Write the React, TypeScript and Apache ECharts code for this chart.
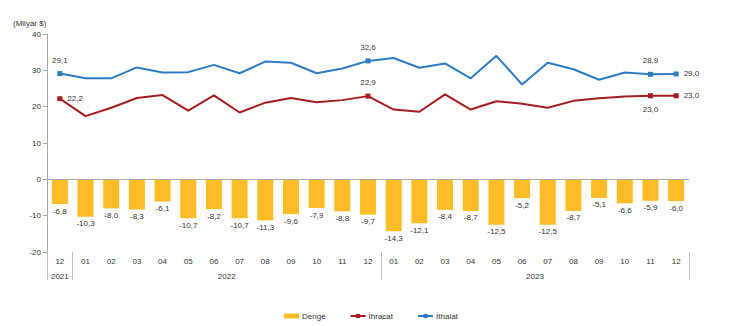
import React, { useEffect, useRef } from "react";
import * as echarts from "echarts";

const months = ["12", "01", "02", "03", "04", "05", "06", "07", "08", "09", "10", "11", "12", "01", "02", "03", "04", "05", "06", "07", "08", "09", "10", "11", "12"];
const yearLabels = ["2021", "2022", "2023"];
const yearSpans = [1, 12, 12];

const denge = [-6.8, -10.3, -8.0, -8.3, -6.1, -10.7, -8.2, -10.7, -11.3, -9.6, -7.9, -8.8, -9.7, -14.3, -12.1, -8.4, -8.7, -12.5, -5.2, -12.5, -8.7, -5.1, -6.6, -5.9, -6.0];
const ihracat = [22.2, 17.4, 19.7, 22.4, 23.2, 18.9, 23.1, 18.4, 21.1, 22.4, 21.2, 21.8, 22.9, 19.2, 18.6, 23.4, 19.2, 21.5, 20.8, 19.7, 21.6, 22.3, 22.8, 23.0, 23.0];
const ithalat = [29.1, 27.8, 27.8, 30.8, 29.4, 29.5, 31.5, 29.2, 32.4, 32.1, 29.2, 30.5, 32.6, 33.4, 30.7, 31.9, 27.8, 34.0, 26.1, 32.1, 30.3, 27.4, 29.4, 28.9, 29.0];

const ihracatLabelPos: Record<number, string> = { 0: "right", 12: "top", 23: "bottom", 24: "right" };
const ithalatLabelPos: Record<number, string> = { 0: "top", 12: "top", 23: "top", 24: "right" };

const fmt = (v: number) => v.toFixed(1).replace(".", ",");

const textColor = "#333333";
const axisColor = "#a6a6a6";

function lineData(values: number[], pos: Record<number, string>) {
  return values.map((v, i) =>
    pos[i] !== undefined
      ? {
          value: v,
          symbol: "rect",
          symbolSize: 5,
          label: { show: true, position: pos[i], distance: pos[i] === "right" ? 5 : 7 },
        }
      : { value: v, symbol: "none" }
  );
}

export default function App() {
  const ref = useRef<HTMLDivElement>(null);
  useEffect(() => {
    if (!ref.current) return;
    const chart = echarts.init(ref.current, undefined, { renderer: "svg" });
    const bounds: number[] = [0];
    yearSpans.forEach((s) => bounds.push(bounds[bounds.length - 1] + s));
    const centers = yearSpans.map((s, i) => bounds[i] + s / 2);
    const total = bounds[bounds.length - 1];
    chart.setOption({
      animation: false,
      textStyle: { fontFamily: "Liberation Sans, Arial, sans-serif" },
      graphic: [
        {
          type: "text",
          left: 13,
          top: 19,
          style: {
            text: "(Milyar $)",
            fontSize: 8,
            fontWeight: "normal",
            fill: textColor,
            fontFamily: "Liberation Sans, Arial, sans-serif",
          },
        },
      ],
      grid: { left: 47, right: 41, top: 34, bottom: 74, containLabel: false },
      legend: {
        bottom: 1,
        left: 279,
        itemWidth: 15,
        itemHeight: 5,
        itemGap: 24,
        textStyle: { fontSize: 8, color: textColor, padding: [0, 0, 0, -2] },
        data: [{ name: "Denge", icon: "rect" }, { name: "İhracat" }, { name: "İthalat" }],
      },
      xAxis: [
        {
          type: "category",
          data: months,
          position: "bottom",
          axisLine: { show: false },
          axisTick: { show: false },
          axisLabel: { fontSize: 8, color: textColor, margin: 5, interval: 0 },
        },
        {
          type: "value",
          min: 0,
          max: total,
          position: "bottom",
          axisLine: { show: false, onZero: false },
          splitLine: { show: false },
          axisTick: { show: true, customValues: bounds, length: 28, lineStyle: { color: "#bfbfbf" } },
          axisLabel: {
            customValues: centers,
            fontSize: 8,
            color: textColor,
            margin: 20,
            formatter: (v: number) => {
              const idx = centers.findIndex((c) => Math.abs(c - v) < 1e-6);
              return idx >= 0 ? yearLabels[idx] : "";
            },
          },
        },
      ],
      yAxis: {
        type: "value",
        min: -20,
        max: 40,
        interval: 10,
        axisLine: { show: true, lineStyle: { color: axisColor } },
        axisTick: { show: true, length: 4, lineStyle: { color: axisColor } },
        splitLine: { show: false },
        axisLabel: { fontSize: 8, color: textColor, margin: 6 },
      },
      series: [
        {
          name: "Denge",
          type: "bar",
          xAxisIndex: 0,
          data: denge,
          barWidth: 16,
          itemStyle: { color: "#FBBC26" },
          label: { show: true, position: "outside", distance: 3, fontSize: 8, color: textColor, formatter: (p: any) => fmt(p.value) },
          markLine: {
            silent: true,
            symbol: ["none", "none"],
            label: { show: false },
            lineStyle: { color: axisColor, type: "solid", width: 1 },
            data: [{ yAxis: 0 }],
          },
        },
        {
          name: "İhracat",
          type: "line",
          xAxisIndex: 0,
          data: lineData(ihracat, ihracatLabelPos),
          symbol: "rect",
          symbolSize: 5,
          showSymbol: true,
          lineStyle: { color: "#A31C1F", width: 2 },
          itemStyle: { color: "#A31C1F" },
          label: { fontSize: 8, color: textColor, formatter: (p: any) => fmt(p.value) },
        },
        {
          name: "İthalat",
          type: "line",
          xAxisIndex: 0,
          data: lineData(ithalat, ithalatLabelPos),
          symbol: "rect",
          symbolSize: 5,
          showSymbol: true,
          lineStyle: { color: "#2E7BBF", width: 2 },
          itemStyle: { color: "#2E7BBF" },
          label: { fontSize: 8, color: textColor, formatter: (p: any) => fmt(p.value) },
        },
      ],
    });
    return () => chart.dispose();
  }, []);
  return <div ref={ref} style={{ position: "absolute", left: 0, top: 0, width: 730, height: 326 }} />;
}
